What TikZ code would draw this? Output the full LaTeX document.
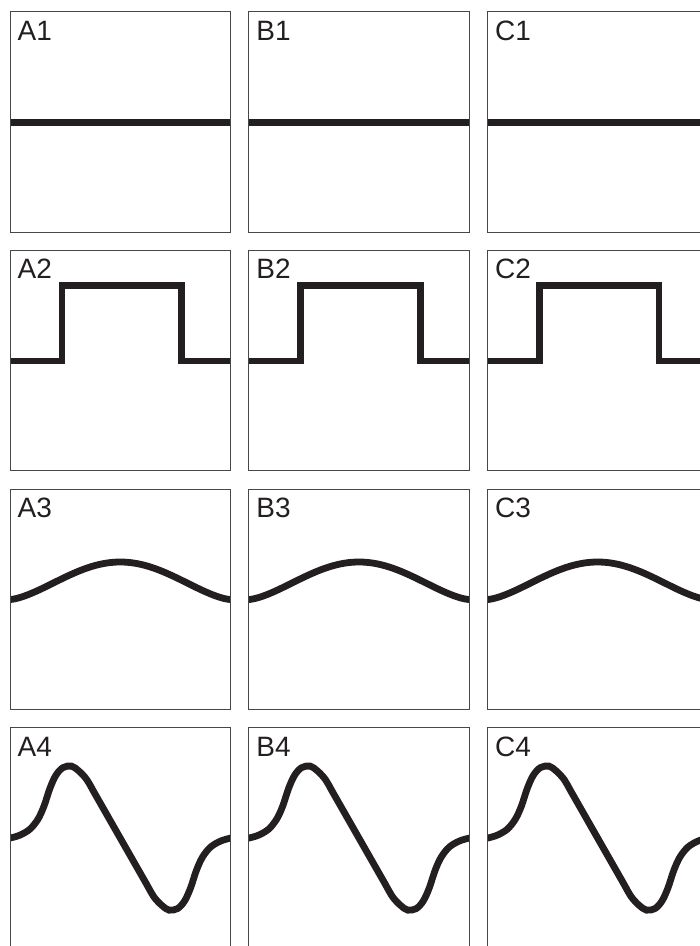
\documentclass[tikz,border=0pt]{standalone}
\usepackage{fontspec}
\setmainfont{Liberation Sans}
\definecolor{ink}{HTML}{231F20}
\begin{document}
\begin{tikzpicture}[x=1pt,y=-1pt,
  panel/.style={draw=black!72, line width=0.9pt},
  wave/.style={draw=ink, line width=6.8pt, line join=miter},
  lbl/.style={inner sep=0pt, anchor=base west, font=\fontsize{28}{28}\selectfont, text=ink}]
\useasboundingbox (0,0) rectangle (700,946);
\clip (0,0) rectangle (700,946);
\foreach \col/\cx in {A/10,B/248.7,C/487.4}{
  \foreach \row/\ry in {1/11.7,2/250.3,3/489,4/727.6}{
    \begin{scope}[shift={(\cx,\ry)}]
      \begin{scope}
        \clip (0,0) rectangle (220.5,220.5);
        \ifnum\row=1
          \draw[wave] (-5,110.5) -- (225.5,110.5);
        \fi
        \ifnum\row=2
          \draw[wave] (-5,110.7) -- (52,110.7) -- (52,35.2) -- (171.5,35.2) -- (171.5,110.7) -- (225.5,110.7);
        \fi
        \ifnum\row=3
          \begin{scope}[shift={(0,110.5)}, yscale=-1]
            \draw[wave] (-5,0) -- (0,0) -- plot[domain=1:219.5, samples=90] (\x, {37.5*sin(0.816327*\x)*sqrt(sin(0.816327*\x))}) -- (220.5,0) -- (225.5,0);
          \end{scope}
        \fi
        \ifnum\row=4
          \begin{scope}[shift={(0,110.5)}, yscale=-1]
            \draw[wave] plot[smooth, tension=0.55] coordinates {
              (-6,-1) (0,0) (10,3) (20,9) (28,19) (34,32) (40,50) (46,63) (53,70.5) (61.5,72) (69,67) (77,58.2) (85,44.2)
              (110.25,0)
              (135.5,-44.2) (143.5,-58.2) (151.5,-67) (159,-72) (167.5,-70.5) (174.5,-63) (180.5,-50) (186.5,-32) (192.5,-19) (200.5,-9) (210.5,-3) (220.5,0) (226.5,1)};
          \end{scope}
        \fi
      \end{scope}
      \draw[panel] (0,0) rectangle (220.5,220.5);
      \node[lbl] (lbl\col\row) at (7.5,28.5) {\col\row};
    \end{scope}
  }
}
\end{tikzpicture}
\end{document}
